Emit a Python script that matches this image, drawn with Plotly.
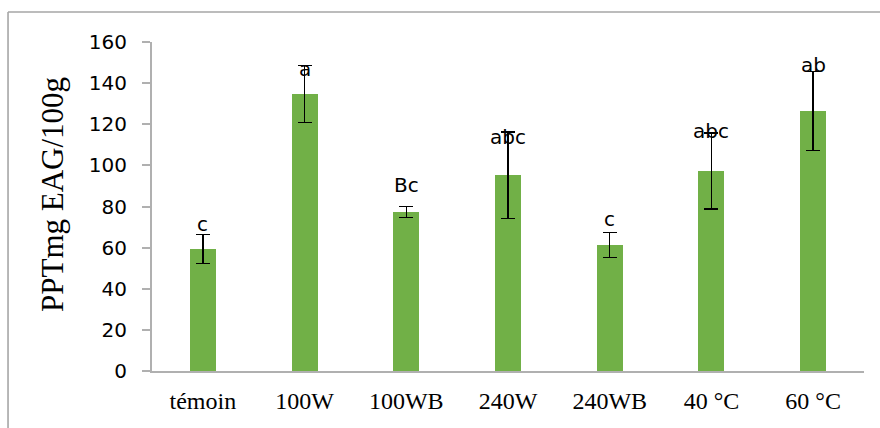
import plotly.graph_objects as go

categories = ["témoin", "100W", "100WB", "240W", "240WB", "40 °C", "60 °C"]
values = [59.3, 134.7, 77.3, 95.3, 61.3, 97.3, 126.5]
errors = [7.0, 14.0, 2.7, 21.0, 6.2, 18.5, 19.2]
letters = ["c", "a", "Bc", "abc", "c", "abc", "ab"]
letter_y = [71.5, 146.9, 90.5, 113.8, 73.9, 116.9, 148.8]
y_ticks = [0, 20, 40, 60, 80, 100, 120, 140, 160]
y_title = "PPTmg EAG/100g"

fig = go.Figure()
fig.add_trace(go.Bar(
    x=categories, y=values, width=0.255,
    marker=dict(color="#71b047", line=dict(width=0)),
    error_y=dict(type="data", array=errors, visible=True, color="#000000",
                 thickness=1.3, width=7),
    showlegend=False, hoverinfo="skip",
))

for c, t, yy in zip(categories, letters, letter_y):
    fig.add_annotation(x=c, y=yy, text=t, showarrow=False, xref="x", yref="y",
                       font=dict(family="DejaVu Sans", size=20, color="#000000"),
                       yanchor="middle", xanchor="center")

fig.add_annotation(x=-0.139, y=0.535, xref="paper", yref="paper", text=y_title,
                   showarrow=False, textangle=-90, xanchor="center", yanchor="middle",
                   font=dict(family="Liberation Serif", size=31, color="#000000"))

fig.update_layout(
    width=880, height=428,
    margin=dict(l=152, r=16, t=42, b=57),
    paper_bgcolor="white", plot_bgcolor="white",
    bargap=0,
    shapes=[
        dict(type="line", xref="paper", yref="paper", x0=-0.2022, x1=1.03,
             y0=1.0912, y1=1.0912, line=dict(color="#a6a6a6", width=1.6)),
        dict(type="line", xref="paper", yref="paper", x0=-0.2022, x1=-0.2022,
             y0=1.0912, y1=-0.2, line=dict(color="#a6a6a6", width=1.6)),
    ],
)
fig.update_xaxes(
    showline=True, linecolor="#b0b0b0", linewidth=2, ticks="",
    showgrid=False, tickfont=dict(family="Liberation Serif", size=24, color="#000000"),
    ticklabelstandoff=7,
)
fig.update_yaxes(
    range=[0, 160], tickvals=y_ticks, showline=True, linecolor="#b0b0b0",
    linewidth=2, ticks="outside", ticklen=8, tickcolor="#b0b0b0", tickwidth=1.5,
    showgrid=False, zeroline=False,
    tickfont=dict(family="DejaVu Sans", size=20, color="#000000"),
    ticklabelstandoff=11,
)

fig.write_html("out.html", config={"displayModeBar": False},
               post_script="document.body.style.margin='0';document.body.style.overflow='hidden';")
